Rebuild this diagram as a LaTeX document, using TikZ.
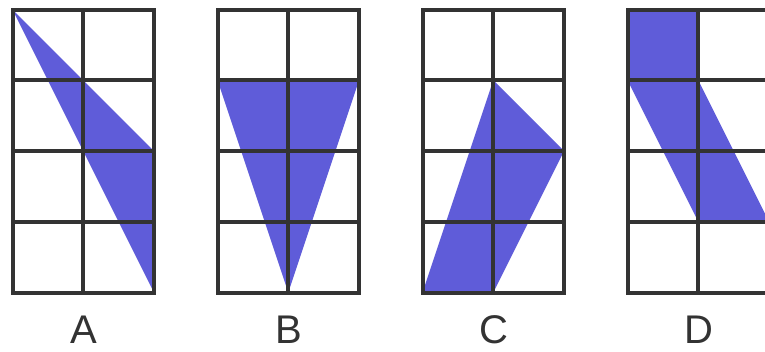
\documentclass[tikz,border=0pt]{standalone}
\usepackage{fontspec}
\setmainfont{Liberation Sans}
\definecolor{shade}{HTML}{5F5CD9}
\definecolor{gridc}{HTML}{333333}
\tikzset{
  gridline/.style={draw=gridc, line width=4pt, line join=miter},
  shaded/.style={fill=shade, draw=none},
  letter/.style={text=gridc, font=\fontsize{40}{42}\selectfont, inner sep=0pt, anchor=base}
}
\newcommand{\cellgrid}{%
  \draw[gridline] (0,0) rectangle (2,4);
  \draw[gridline] (1,0) -- (1,4);
  \foreach \r in {1,2,3} \draw[gridline] (0,\r) -- (2,\r);
}
\begin{document}
\begin{tikzpicture}[x=1pt,y=-1pt]
\useasboundingbox (0,0) rectangle (765,351);
\fill[white] (0,0) rectangle (765,351);
% A
\begin{scope}[shift={(12.5,9.5)}, x=70.75pt, y=-70.75pt]
  \fill[shaded] (0,0) -- (2,2) -- (2,4) -- cycle;
  \cellgrid
\end{scope}
% B
\begin{scope}[shift={(217.5,9.5)}, x=70.75pt, y=-70.75pt]
  \fill[shaded] (0,1) -- (2,1) -- (1,4) -- cycle;
  \cellgrid
\end{scope}
% C
\begin{scope}[shift={(422.5,9.5)}, x=70.75pt, y=-70.75pt]
  \fill[shaded] (0,4) -- (1,1) -- (2,2) -- (1,4) -- cycle;
  \cellgrid
\end{scope}
% D
\begin{scope}[shift={(627.5,9.5)}, x=70.75pt, y=-70.75pt]
  \fill[shaded] (0,0) rectangle (1,1);
  \fill[shaded] (0,1) -- (1,1) -- (2,3) -- (1,3) -- cycle;
  \cellgrid
\end{scope}
\node[letter] (la) at (84,343) {A};
\node[letter] (lb) at (289,343) {B};
\node[letter] (lc) at (494,343) {C};
\node[letter] (ld) at (699,343) {D};
\end{tikzpicture}
\end{document}
